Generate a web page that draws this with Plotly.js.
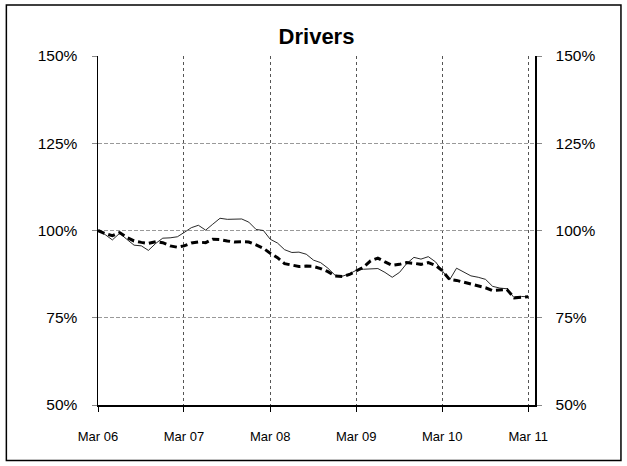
<!DOCTYPE html>
<html>
<head>
<meta charset="utf-8">
<script src="https://cdn.plot.ly/plotly-3.0.1.min.js"></script>
<style>
html,body{margin:0;padding:0;background:#fff;}
#chart{width:627px;height:466px;}
</style>
</head>
<body>
<div id="chart"></div>
<script>
var months = [
"2006-03-01","2006-04-01","2006-05-01","2006-06-01","2006-07-01","2006-08-01","2006-09-01","2006-10-01","2006-11-01","2006-12-01",
"2007-01-01","2007-02-01","2007-03-01","2007-04-01","2007-05-01","2007-06-01","2007-07-01","2007-08-01","2007-09-01","2007-10-01",
"2007-11-01","2007-12-01","2008-01-01","2008-02-01","2008-03-01","2008-04-01","2008-05-01","2008-06-01","2008-07-01","2008-08-01",
"2008-09-01","2008-10-01","2008-11-01","2008-12-01","2009-01-01","2009-02-01","2009-03-01","2009-04-01","2009-05-01","2009-06-01",
"2009-07-01","2009-08-01","2009-09-01","2009-10-01","2009-11-01","2009-12-01","2010-01-01","2010-02-01","2010-03-01","2010-04-01",
"2010-05-01","2010-06-01","2010-07-01","2010-08-01","2010-09-01","2010-10-01","2010-11-01","2010-12-01","2011-01-01","2011-02-01",
"2011-03-01"];

var seriesThin = [
100,98.8,97.3,99.2,97.5,95.8,95.6,94.3,96.3,97.8,
97.9,98.2,99.4,100.8,101.5,100.1,101.8,103.5,103.2,103.2,
103.3,102.4,100.3,100.0,97.5,96.4,94.5,93.7,93.8,93.2,
91.5,90.8,89.2,87.2,86.9,87.6,88.6,88.9,89.0,89.1,
88.0,86.6,88.0,90.5,92.3,91.8,92.5,91.0,88.5,85.8,
89.2,88.0,87.0,86.6,86.0,84.0,83.5,83.3,80.7,81.1,
81.0];

var seriesDashed = [
100,99.1,98.5,99.4,98.0,97.0,96.6,96.3,96.8,96.5,
95.6,95.2,95.6,96.4,96.7,96.5,97.5,97.4,97.0,96.7,
96.8,96.7,95.9,94.9,93.5,92.2,90.5,90.0,89.7,89.8,
89.7,89.1,88.2,87.0,86.8,87.4,88.3,89.5,91.3,92.1,
91.0,90.0,90.3,90.8,90.6,90.3,90.8,90.0,88.5,86.0,
85.7,85.2,84.6,84.2,83.6,82.8,83.0,83.1,80.7,80.9,
81.0];

var yTicks = [50,75,100,125,150];
var yTickText = ["50%","75%","100%","125%","150%"];
var titleText = "Drivers";

var font = "Liberation Sans, Arial, sans-serif";

var traces = [
  {x: months, y: seriesThin, type: "scatter", mode: "lines",
   line: {color: "#111", width: 0.9}, hoverinfo: "skip", showlegend: false},
  {x: months, y: seriesDashed, type: "scatter", mode: "lines",
   line: {color: "#000", width: 3, dash: "7px,4px"}, hoverinfo: "skip", showlegend: false},
  {x: months, y: seriesDashed, type: "scatter", mode: "lines", yaxis: "y2",
   line: {color: "rgba(0,0,0,0)", width: 0}, hoverinfo: "skip", showlegend: false}
];

var layout = {
  width: 627, height: 466,
  paper_bgcolor: "#fff", plot_bgcolor: "#fff",
  margin: {l: 98, r: 92, t: 56, b: 61},
  font: {family: font, color: "#000"},
  title: {text: "<b>" + titleText + "</b>", font: {family: font, size: 22, color: "#000"},
          x: 0.5, xref: "paper", xanchor: "center", y: 0.922, yref: "container", yanchor: "middle"},
  xaxis: {
    type: "date", range: ["2006-03-01", "2011-03-30"],
    tick0: "2006-03-01", dtick: "M12", tickformat: "%b %y",
    showgrid: true, gridcolor: "#555", griddash: "3px,3px", gridwidth: 1,
    showline: true, linecolor: "#000", linewidth: 1.5,
    ticks: "outside", ticklen: 5, tickcolor: "#000", tickwidth: 1,
    ticklabelstandoff: 14,
    tickfont: {family: font, size: 13, color: "#000"},
    zeroline: false, fixedrange: true
  },
  yaxis: {
    range: [50, 150], tickvals: yTicks, ticktext: yTickText,
    showgrid: true, gridcolor: "#999", griddash: "4px,2px", gridwidth: 1,
    showline: true, linecolor: "#000", linewidth: 1.5,
    ticks: "outside", ticklen: 5, tickcolor: "#888", tickwidth: 1,
    ticklabelstandoff: 11,
    tickfont: {family: font, size: 15.5, color: "#000"},
    zeroline: false, fixedrange: true
  },
  yaxis2: {
    range: [50, 150], tickvals: yTicks, ticktext: yTickText,
    overlaying: "y", side: "right", showgrid: false,
    showline: true, linecolor: "#000", linewidth: 1.5,
    ticks: "outside", ticklen: 5, tickcolor: "#888", tickwidth: 1,
    ticklabelstandoff: 11,
    tickfont: {family: font, size: 15.5, color: "#000"},
    zeroline: false, fixedrange: true
  },
  shapes: [
    {type: "rect", xref: "paper", yref: "paper",
     x0: -0.2097, x1: 1.1967, y0: -0.1588, y1: 1.146,
     line: {color: "#000", width: 1.5}, fillcolor: "rgba(0,0,0,0)", layer: "below"}
  ]
};

Plotly.newPlot("chart", traces, layout, {staticPlot: true, displayModeBar: false});
</script>
</body>
</html>
